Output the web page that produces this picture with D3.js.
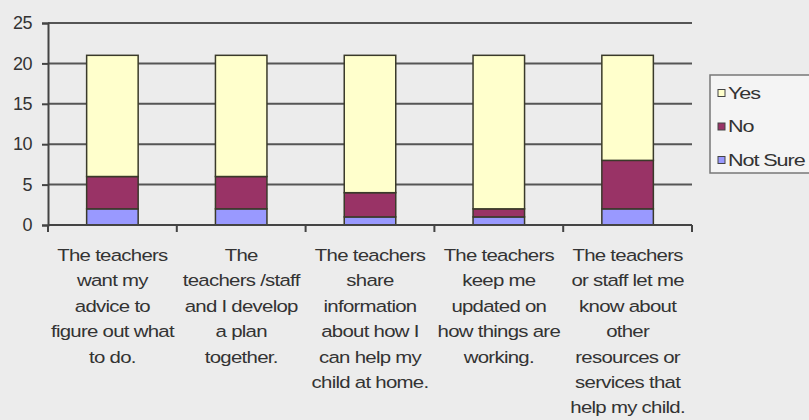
<!DOCTYPE html>
<html lang="en">
<head>
    <meta charset="UTF-8">
    <script src="https://d3js.org/d3.v7.min.js"></script>
    <style>
        body { margin: 0; background: #ececec; }
        svg text { font-family: "Liberation Sans", Arial, sans-serif; fill: #333; }
    </style>
    <title>chart</title>
</head>
<body>
    <svg width="809" height="420"></svg>
    <script>
        // categories (x axis labels, pre-wrapped the way they appear)
        const categories = [
            ['The teachers', 'want my', 'advice to', 'figure out what', 'to do.'],
            ['The', 'teachers /staff', 'and I develop', 'a plan', 'together.'],
            ['The teachers', 'share', 'information', 'about how I', 'can help my', 'child at home.'],
            ['The teachers', 'keep me', 'updated on', 'how things are', 'working.'],
            ['The teachers', 'or staff let me', 'know about', 'other', 'resources or', 'services that', 'help my child.']
        ];
        const seriesNames = ['Not Sure', 'No', 'Yes'];
        const notSure = [2, 2, 1, 1, 2];
        const no = [4, 4, 3, 1, 6];
        const yes = [15, 15, 17, 19, 13];
        const yTicks = [0, 5, 10, 15, 20, 25];
        const colors = { 'Yes': '#ffffcc', 'No': '#993366', 'Not Sure': '#9999ff' };

        const svg = d3.select('svg');
        const margin = { top: 23, left: 48, right: 117, bottom: 195 };
        const width = +svg.attr('width'), height = +svg.attr('height');
        const innerW = width - margin.left - margin.right;
        const innerH = height - margin.top - margin.bottom;

        // build rows for the stack
        const rows = categories.map((c, i) => ({ idx: i, 'Not Sure': notSure[i], 'No': no[i], 'Yes': yes[i] }));
        const stacked = d3.stack().keys(seriesNames)(rows);

        const x = d3.scaleBand().domain(d3.range(categories.length)).range([0, innerW]).paddingInner(0.6).paddingOuter(0.3);
        const xEdge = d3.scaleLinear().domain([0, categories.length]).range([0, innerW]);
        const y = d3.scaleLinear().domain([0, 25]).range([innerH, 0]);

        const g = svg.append('g').attr('transform', `translate(${margin.left},${margin.top})`);

        // gridlines
        g.append('g').selectAll('line').data(yTicks.filter(t => t > 0)).join('line')
            .attr('x1', 0).attr('x2', innerW)
            .attr('y1', d => y(d)).attr('y2', d => y(d))
            .attr('stroke', '#555').attr('stroke-width', 2);

        // y axis
        const yAxis = g.append('g').call(d3.axisLeft(y).tickValues(yTicks).tickSize(6).tickPadding(10));
        yAxis.select('.domain').attr('stroke', '#444').attr('stroke-width', 2);
        yAxis.selectAll('.tick line').attr('stroke', '#444').attr('stroke-width', 2);
        yAxis.selectAll('.tick text')
            .style('font-size', '18px').style('letter-spacing', '-0.5px').attr('fill', '#444');

        // bars
        g.append('g').selectAll('g').data(stacked).join('g')
            .attr('fill', d => colors[d.key])
            .selectAll('rect').data(d => d).join('rect')
            .attr('x', (d, i) => x(i))
            .attr('width', x.bandwidth())
            .attr('y', d => y(d[1]))
            .attr('height', d => y(d[0]) - y(d[1]))
            .attr('stroke', '#3a3a2a').attr('stroke-width', 1.5);

        // x axis line and category ticks
        g.append('line').attr('x1', 0).attr('x2', innerW).attr('y1', innerH).attr('y2', innerH)
            .attr('stroke', '#444').attr('stroke-width', 2);
        g.append('g').selectAll('line').data(d3.range(categories.length + 1)).join('line')
            .attr('x1', d => xEdge(d)).attr('x2', d => xEdge(d))
            .attr('y1', innerH).attr('y2', innerH + 7)
            .attr('stroke', '#444').attr('stroke-width', 2);

        // category labels (glyphs in the source are stretched wide)
        const labels = g.append('g').selectAll('text').data(categories).join('text')
            .attr('text-anchor', 'middle')
            .attr('transform', (d, i) => `translate(${x(i) + x.bandwidth() / 2},${innerH + 36}) scale(1.2,1)`)
            .style('font-size', '17px').style('letter-spacing', '-0.6px');
        labels.selectAll('tspan').data(d => d).join('tspan')
            .attr('x', 0)
            .attr('dy', (d, i) => i === 0 ? 0 : 25.4)
            .text(d => d);

        // legend
        const legend = svg.append('g').attr('transform', 'translate(710,75)');
        legend.append('rect').attr('width', 104).attr('height', 98)
            .attr('fill', '#f4f4f4').attr('stroke', '#777').attr('stroke-width', 1.5);
        const legendOrder = ['Yes', 'No', 'Not Sure'];
        const ly = d3.scalePoint().domain(legendOrder).range([18, 85]);
        const items = legend.selectAll('g.item').data(legendOrder).join('g')
            .attr('transform', d => `translate(8,${ly(d)})`);
        items.append('rect').attr('x', 0).attr('y', -3.5).attr('width', 7).attr('height', 7)
            .attr('fill', d => colors[d]).attr('stroke', '#444').attr('stroke-width', 1);
        items.append('text').attr('transform', 'translate(10,0) scale(1.35,1)').attr('dy', '0.35em')
            .style('font-size', '16px').style('letter-spacing', '-0.8px')
            .text(d => d);
    </script>
</body>
</html>
